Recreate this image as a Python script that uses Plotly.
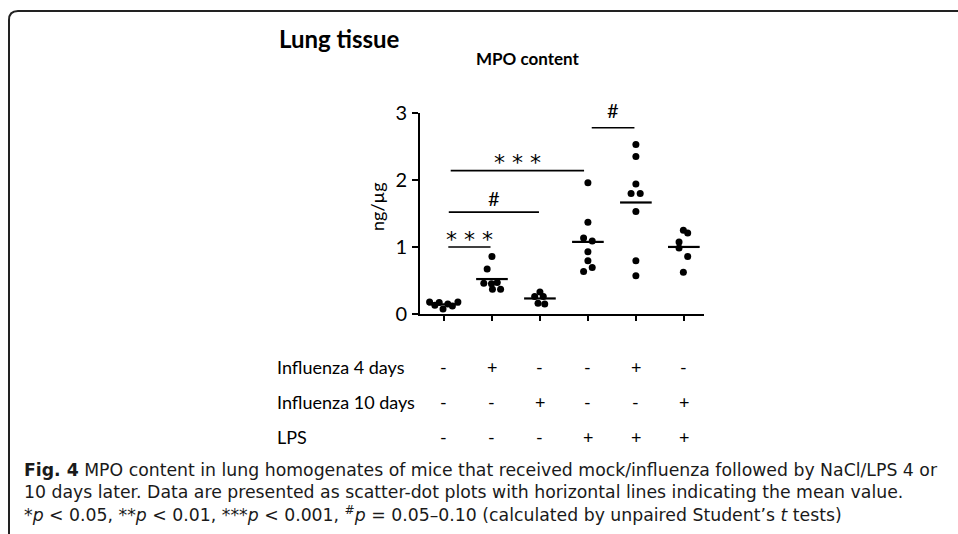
import plotly.graph_objects as go
import numpy as np

# ---------------- data ----------------
groups = [1, 2, 3, 4, 5, 6]
g1_vals = [0.18, 0.13, 0.17, 0.075, 0.15, 0.12, 0.18]
g2_vals = [0.46, 0.67, 0.86, 0.45, 0.47, 0.37, 0.37]
g3_vals = [0.33, 0.26, 0.26, 0.16, 0.15]
g4_vals = [1.96, 1.37, 1.135, 1.09, 0.93, 0.795, 0.635, 0.695]
g5_vals = [2.53, 2.35, 1.94, 1.80, 1.80, 1.53, 0.795, 0.57]
g6_vals = [1.25, 1.21, 1.075, 0.985, 0.86, 0.625]

g1_jit = [-0.30, -0.19, -0.10, -0.02, 0.08, 0.175, 0.29]
g2_jit = [-0.17, -0.10, 0.0, -0.01, 0.11, 0.01, 0.18]
g3_jit = [0.0, -0.11, 0.07, -0.04, 0.10]
g4_jit = [0.0, 0.0, -0.09, 0.09, 0.0, 0.0, -0.09, 0.09]
g5_jit = [0.0, 0.0, 0.0, -0.10, 0.09, 0.0, 0.0, 0.0]
g6_jit = [-0.01, 0.08, -0.10, -0.10, 0.08, -0.01]

y_ticks = [0, 1, 2, 3]
row_labels = ["Influenza 4 days", "Influenza 10 days", "LPS"]
influenza4 = ["-", "+", "-", "-", "+", "-"]
influenza10 = ["-", "-", "+", "-", "-", "+"]
lps = ["-", "-", "-", "+", "+", "+"]

# significance brackets
sig_x0 = [1.09, 1.10, 1.14, 4.08]
sig_x1 = [1.97, 2.98, 3.92, 4.97]
sig_y = [1.0, 1.52, 2.14, 2.78]
sig_lab = ["***", "#", "***", "#"]

caption = [
    "<b>Fig. 4</b> MPO content in lung homogenates of mice that received mock/influenza followed by NaCl/LPS 4 or",
    "10 days later. Data are presented as scatter-dot plots with horizontal lines indicating the mean value.",
    "*<i>p</i> &lt; 0.05, **<i>p</i> &lt; 0.01, ***<i>p</i> &lt; 0.001, <sup>#</sup><i>p</i> = 0.05–0.10 (calculated by unpaired Student’s <i>t</i> tests)",
]

# ---------------- layout geometry ----------------
W, H = 958, 534
ML, MR, MT, MB = 420, 254, 113, 220
PW, PH = W - ML - MR, H - MT - MB


def px(x):
    return (x - ML) / PW


def py(y):
    return (H - MB - y) / PH


all_vals = [g1_vals, g2_vals, g3_vals, g4_vals, g5_vals, g6_vals]
all_jit = [g1_jit, g2_jit, g3_jit, g4_jit, g5_jit, g6_jit]

fig = go.Figure()
xs, ys = [], []
for g, v, j in zip(groups, all_vals, all_jit):
    xs += [g + o for o in j]
    ys += v
fig.add_trace(go.Scatter(x=xs, y=ys, mode="markers",
                         marker=dict(color="black", size=7), showlegend=False,
                         cliponaxis=False, hoverinfo="skip"))

mx, my = [], []
for g, v in zip(groups, all_vals):
    m = float(np.mean(v))
    mx += [g - 0.33, g + 0.33, None]
    my += [m, m, None]
fig.add_trace(go.Scatter(x=mx, y=my, mode="lines",
                         line=dict(color="black", width=2.2), showlegend=False,
                         hoverinfo="skip"))

font = "Lato, Open Sans, sans-serif"
shapes = []
ann = []
for x0, x1, y, lab in zip(sig_x0, sig_x1, sig_y, sig_lab):
    shapes.append(dict(type="line", xref="x", yref="y", x0=x0, x1=x1, y0=y, y1=y,
                       line=dict(color="black", width=1.6)))
    if "*" in lab:
        ann.append(dict(x=(x0 + x1) / 2, y=y, xref="x", yref="y", text=" ".join(lab),
                        showarrow=False, yanchor="middle", xanchor="center", yshift=8,
                        font=dict(family="DejaVu Sans", size=22, color="black")))
    else:
        ann.append(dict(x=(x0 + x1) / 2, y=y, xref="x", yref="y", text=lab,
                        showarrow=False, yanchor="middle", xanchor="center",
                        yshift=14 if y < 2.5 else 18,
                        font=dict(family=font, size=20, color="black")))

# y-axis label
ann.append(dict(x=px(377), y=py(207), xref="paper", yref="paper", text="ng/µg",
                textangle=-90, showarrow=False, xanchor="center", yanchor="middle",
                font=dict(family=font, size=18, color="black")))

# titles
ann.append(dict(x=px(277), y=py(39), xref="paper", yref="paper", text="<b>Lung tissue</b>",
                xanchor="left", yanchor="middle", showarrow=False,
                font=dict(family=font, size=24, color="black")))
ann.append(dict(x=px(528), y=py(59), xref="paper", yref="paper", text="<b>MPO content</b>",
                xanchor="center", yanchor="middle", showarrow=False,
                font=dict(family=font, size=17, color="black")))

# treatment table
row_y = [367, 402, 437]
for lab, ry, row in zip(row_labels, row_y, [influenza4, influenza10, lps]):
    ann.append(dict(x=px(275), y=py(ry), xref="paper", yref="paper", text=lab,
                    xanchor="left", yanchor="middle", showarrow=False,
                    font=dict(family=font, size=18, color="black")))
    for g, s in zip(groups, row):
        ann.append(dict(x=g, y=py(ry), xref="x", yref="paper", text=s,
                        xanchor="center", yanchor="middle", showarrow=False,
                        font=dict(family=font, size=18, color="black")))

# caption (one block, three lines)
ann.append(dict(x=px(22), y=py(492.5), xref="paper", yref="paper",
                text="<br>".join(caption), align="left",
                xanchor="left", yanchor="middle", showarrow=False,
                font=dict(family="DejaVu Sans, sans-serif", size=17.3, color="#1a1a1a")))

# frame
r = 9
frame_path = (f"M {px(9)} {py(560)} L {px(9)} {py(11 + r)} "
              f"Q {px(9)} {py(11)} {px(9 + r)} {py(11)} L {px(980)} {py(11)}")
shapes.append(dict(type="path", xref="paper", yref="paper", path=frame_path,
                   line=dict(color="#222222", width=2)))

fig.update_layout(
    width=W, height=H,
    margin=dict(l=ML, r=MR, t=MT, b=MB),
    paper_bgcolor="white", plot_bgcolor="white",
    shapes=shapes, annotations=ann, hovermode=False,
    xaxis=dict(range=[0.5, 6.42], tickvals=groups, showticklabels=False,
               showline=True, linecolor="black", linewidth=2,
               ticks="outside", ticklen=5, tickwidth=1.5, tickcolor="black",
               showgrid=False, zeroline=False),
    yaxis=dict(range=[0, 3], tickvals=y_ticks, showline=True, linecolor="black",
               linewidth=2, ticks="outside", ticklen=6, tickwidth=1.5, tickcolor="black",
               showgrid=False, zeroline=False, ticklabelstandoff=1,
               tickfont=dict(family=font, size=20, color="black")),
)

fig.write_html("out.html", config={"displayModeBar": False},
               post_script="document.body.style.margin='0';")
